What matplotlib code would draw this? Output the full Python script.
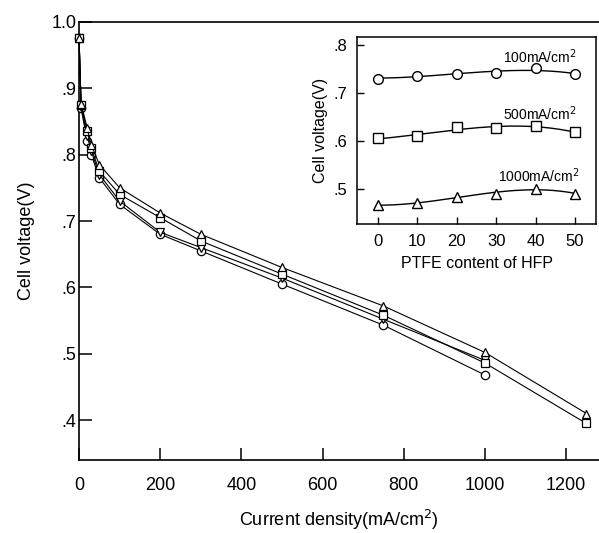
#!/usr/bin/env python3
"""Polarization curves with PTFE-content inset."""

import matplotlib
matplotlib.use("Agg")
import matplotlib.pyplot as plt
import numpy as np

plt.rcParams["font.family"] = ["Liberation Sans", "DejaVu Sans"]

# main plot: current density vs. cell voltage
current = [0, 5, 20, 30, 50, 100, 200, 300, 500, 750, 1000, 1250]
v_circle = [0.975, 0.870, 0.820, 0.800, 0.765, 0.725, 0.680, 0.655, 0.605, 0.543, 0.468, np.nan]
v_down = [0.975, 0.872, 0.828, 0.805, 0.770, 0.730, 0.683, 0.660, 0.614, 0.552, 0.490, np.nan]
v_square = [0.975, 0.875, 0.835, 0.810, 0.775, 0.740, 0.705, 0.670, 0.620, 0.558, 0.486, 0.395]
v_triangle = [0.975, 0.877, 0.840, 0.815, 0.785, 0.750, 0.712, 0.680, 0.630, 0.572, 0.502, 0.410]

x_ticks = [0, 200, 400, 600, 800, 1000, 1200]
y_ticks = [0.4, 0.5, 0.6, 0.7, 0.8, 0.9, 1.0]
y_ticklabels = [".4", ".5", ".6", ".7", ".8", ".9", "1.0"]

# inset: PTFE content of HFP vs. cell voltage at three current densities
ptfe = [0, 10, 20, 30, 40, 50]
v_100 = [0.730, 0.736, 0.740, 0.741, 0.751, 0.739]
v_500 = [0.605, 0.610, 0.628, 0.627, 0.630, 0.618]
v_1000 = [0.466, 0.470, 0.484, 0.490, 0.500, 0.490]
inset_labels = ["100mA/cm$^2$", "500mA/cm$^2$", "1000mA/cm$^2$"]
inset_yticks = [0.5, 0.6, 0.7, 0.8]
inset_yticklabels = [".5", ".6", ".7", ".8"]

fig = plt.figure(figsize=(5.99, 5.33), dpi=100)
ax = fig.add_axes([0.132, 0.137, 0.868, 0.822])

series = [(v_circle, "o"), (v_down, "v"), (v_square, "s"), (v_triangle, "^")]
for values, marker in series:
    ax.plot(current, values, color="black", lw=0.8, marker=marker, ms=6,
            mfc="white", mec="black", mew=0.9, zorder=3, clip_on=False)

ax.set_xlim(0, 1281)
ax.set_ylim(0.34, 1.0)
ax.set_xticks(x_ticks)
ax.set_yticks(y_ticks, y_ticklabels)
ax.tick_params(direction="in", length=9, width=1.1, labelsize=13)
ax.tick_params(axis="x", pad=12)
ax.tick_params(axis="y", pad=2)
ax.spines[["right"]].set_visible(False)
for side in ["left", "bottom", "top"]:
    ax.spines[side].set_linewidth(1.2)
ax.set_xlabel("Current density(mA/cm$^2$)", fontsize=13, labelpad=10)
ax.set_ylabel("Cell voltage(V)", fontsize=13, labelpad=12)

ins = fig.add_axes([0.596, 0.580, 0.399, 0.351])
inset_series = [(v_100, "o"), (v_500, "s"), (v_1000, "^")]
xs = np.linspace(0, 50, 200)
for values, marker in inset_series:
    fit = np.polyfit(ptfe, values, 3)
    ins.plot(xs, np.polyval(fit, xs), color="black", lw=1.0)
    ins.plot(ptfe, values, ls="none", marker=marker, ms=7, mfc="white",
             mec="black", mew=1.0, zorder=3)

ins.text(50.5, 0.757, inset_labels[0], ha="right", va="bottom", fontsize=10)
ins.text(50.5, 0.638, inset_labels[1], ha="right", va="bottom", fontsize=10)
ins.text(51, 0.508, inset_labels[2], ha="right", va="bottom", fontsize=10)

ins.set_xlim(-5.3, 55.3)
ins.set_ylim(0.427, 0.817)
ins.set_xticks(ptfe)
ins.set_yticks(inset_yticks, inset_yticklabels)
ins.tick_params(direction="in", length=5, width=1.0, labelsize=12, pad=7)
for side in ins.spines:
    ins.spines[side].set_linewidth(1.1)
ins.set_xlabel("PTFE content of HFP", fontsize=11.5, labelpad=5)
ins.set_ylabel("Cell voltage(V)", fontsize=11.5, labelpad=4)

fig.savefig("out.png", dpi=100, facecolor="white")
